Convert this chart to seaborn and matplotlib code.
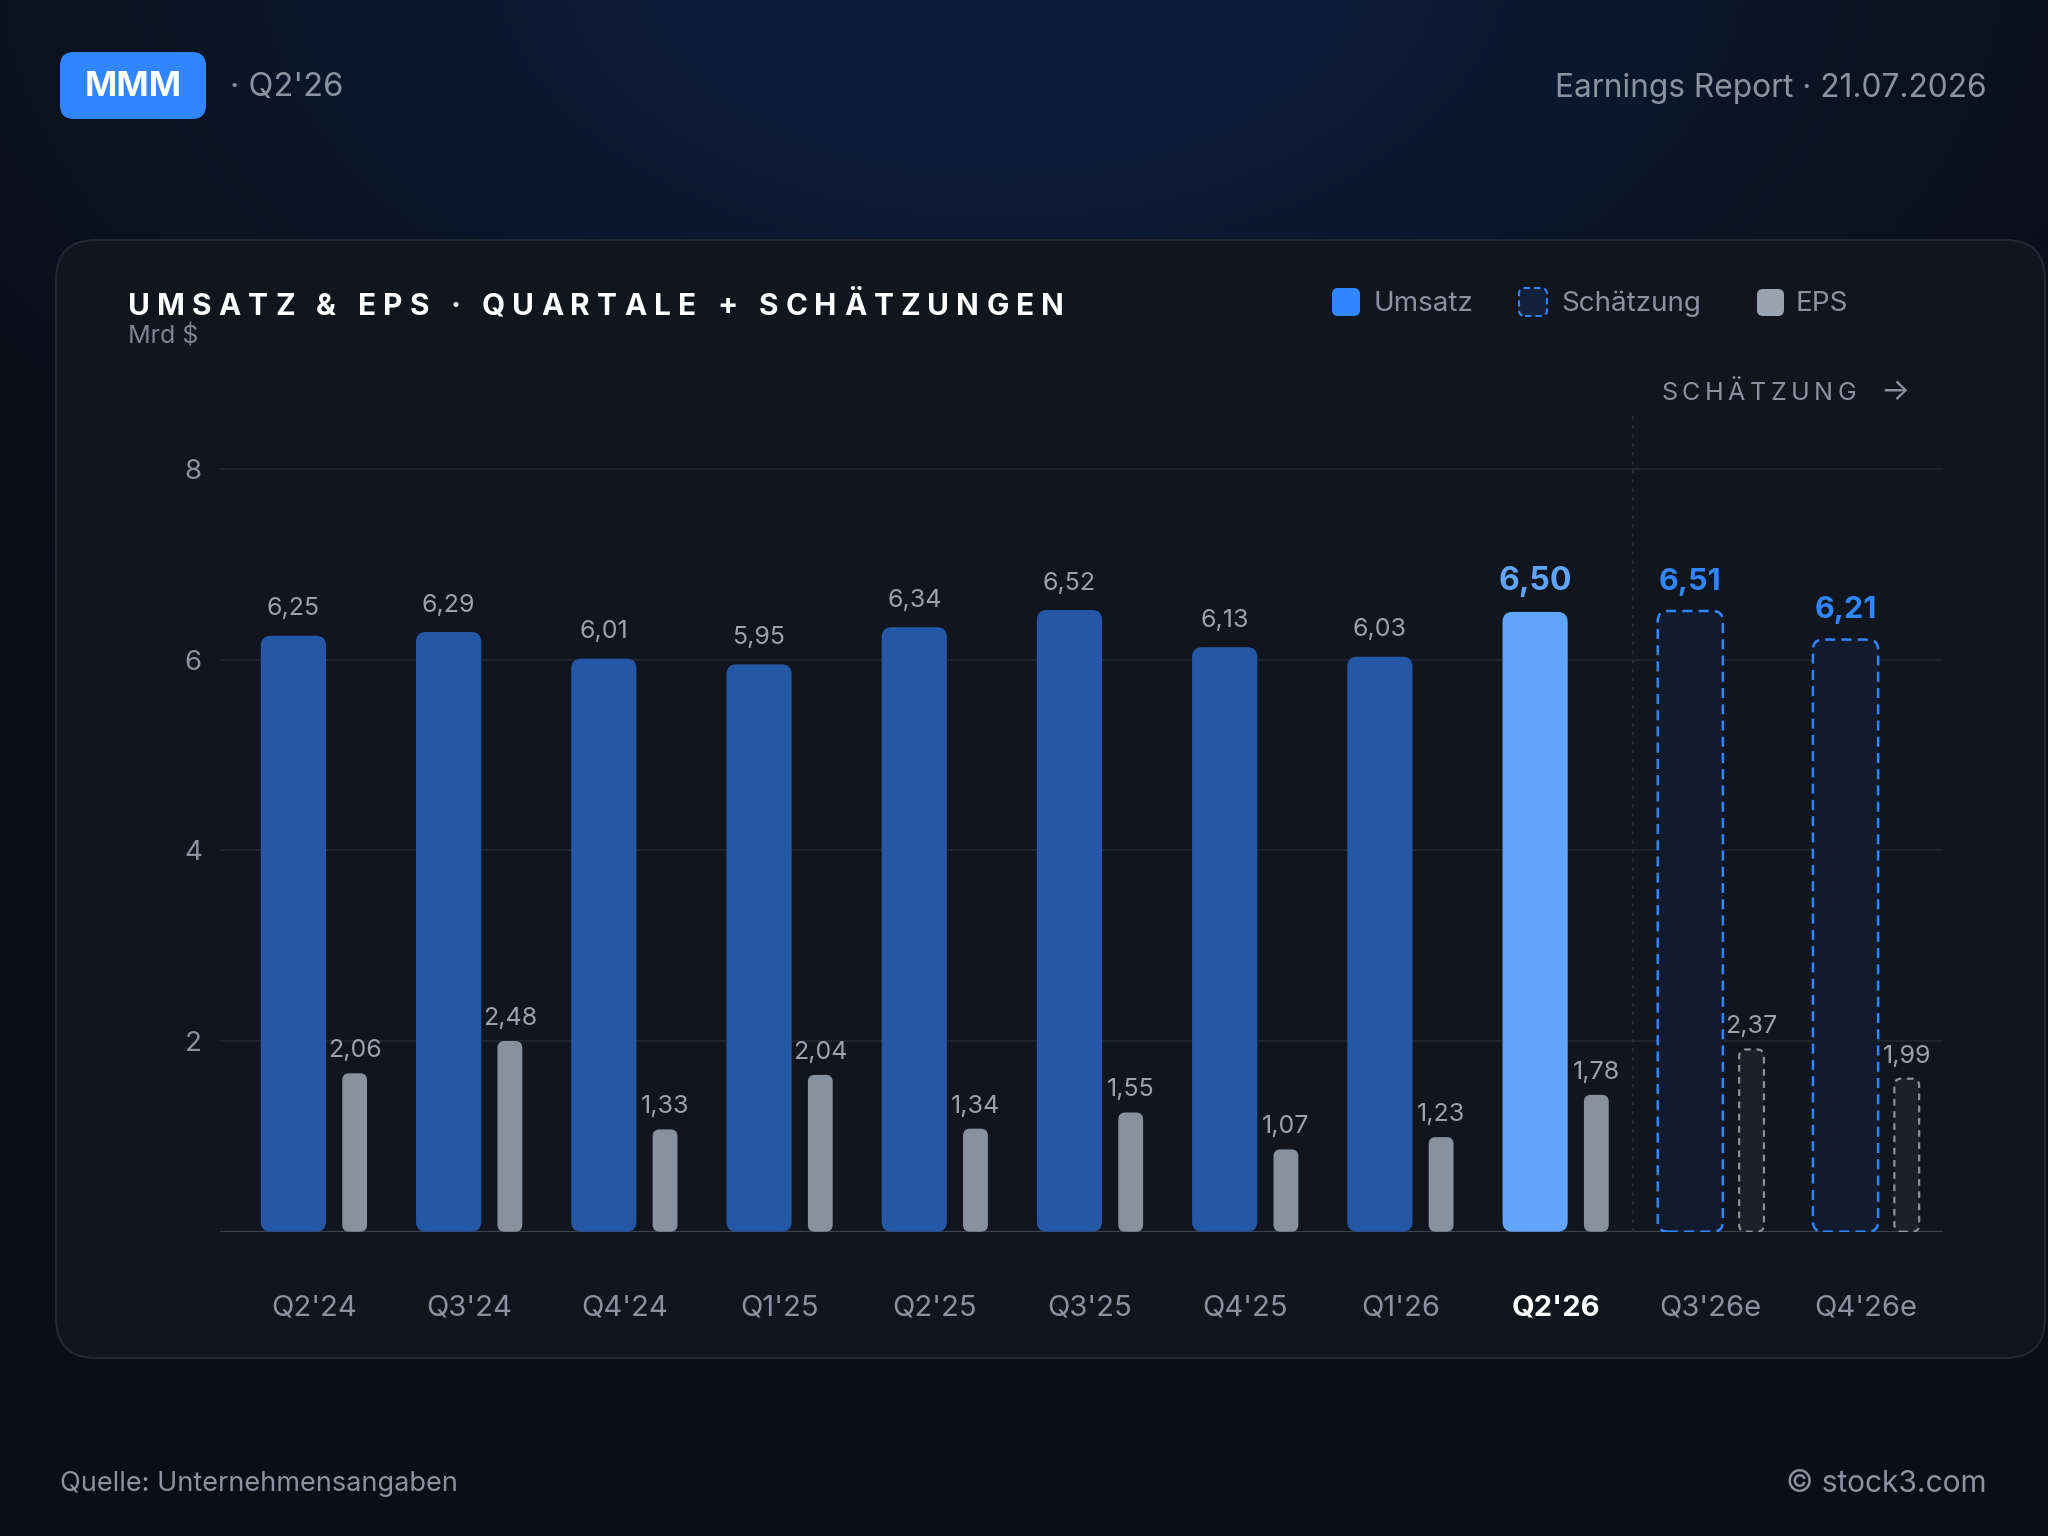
import matplotlib
matplotlib.use("Agg")
import matplotlib.pyplot as plt
import numpy as np
import seaborn as sns
from matplotlib.patches import FancyBboxPatch

# Data (MMM, quarterly revenue in bn $ and EPS)
quarters = ["Q2'24", "Q3'24", "Q4'24", "Q1'25", "Q2'25", "Q3'25", "Q4'25",
            "Q1'26", "Q2'26", "Q3'26e", "Q4'26e"]
umsatz = [6.25, 6.29, 6.01, 5.95, 6.34, 6.52, 6.13, 6.03, 6.50, 6.51, 6.21]
eps = [2.06, 2.48, 1.33, 2.04, 1.34, 1.55, 1.07, 1.23, 1.78, 2.37, 1.99]
status = ["ist", "ist", "ist", "ist", "ist", "ist", "ist", "ist",
          "aktuell", "schaetzung", "schaetzung"]
y_ticks = [2, 4, 6, 8]

TITLE = "UMSATZ & EPS · QUARTALE + SCHÄTZUNGEN"

sns.set_theme(style="white")
plt.rcParams["font.family"] = ["Inter", "DejaVu Sans"]

W, H = 2048, 1536
GRAY = "#8b93a1"
BLUE = "#2f86ff"

fig = plt.figure(figsize=(W / 100, H / 100), dpi=100)
fig.patch.set_facecolor("#0a0e16")

# background layer in pixel coordinates
bg = fig.add_axes([0, 0, 1, 1])
yy, xx = np.mgrid[0:H:4, 0:W:4]
glow = np.exp(-(((xx - 1000) / 820.0) ** 2 + ((yy + 40) / 480.0) ** 2))
base_c = np.array([10, 14, 22]) / 255
glow_c = np.array([13, 30, 62]) / 255
bg.imshow(base_c + (glow_c - base_c) * glow[..., None], extent=(0, W, 0, H),
          origin="upper", aspect="auto", interpolation="bilinear", zorder=0)
bg.set_xlim(0, W)
bg.set_ylim(0, H)
bg.axis("off")

def Y(y_top):
    return H - y_top

# card
bg.add_patch(FancyBboxPatch((56, Y(1358)), 2045 - 56, 1358 - 240,
                            boxstyle="round,pad=0,rounding_size=40",
                            fc="#10151e", ec="#222935", lw=1.5, zorder=1))

# header
bg.add_patch(FancyBboxPatch((60, Y(119)), 146, 67,
                            boxstyle="round,pad=0,rounding_size=14",
                            fc=BLUE, ec="none", zorder=2))
bg.text(133, Y(87), "MMM", color="white", fontsize=25, fontweight="bold",
        ha="center", va="center", zorder=3)
bg.text(230, Y(88), "· Q2'26", color=GRAY, fontsize=23.5, ha="left", va="center")
bg.text(1987, Y(88), "Earnings Report · 21.07.2026", color=GRAY, fontsize=22.8,
        ha="right", va="center")

renderer = fig.canvas.get_renderer()

def text_width(s, **kw):
    t = bg.text(0, 0, s, **kw)
    w = t.get_window_extent(renderer).width
    t.remove()
    return w

def spaced_text(x, y, s, target_w, **kw):
    widths = []
    for ch in s:
        if ch == " ":
            widths.append(text_width("I I", **kw) - text_width("II", **kw))
        else:
            widths.append(text_width(ch, **kw))
    gap = (target_w - sum(widths)) / (len(s) - 1)
    cur = x
    for ch, w in zip(s, widths):
        if ch != " ":
            bg.text(cur, y, ch, ha="left", va="baseline", zorder=3, **kw)
        cur += w + gap

spaced_text(128, Y(315), TITLE, 936, fontsize=21.5, fontweight="bold", color="white")
bg.text(128, Y(336), "Mrd $", color="#7d8593", fontsize=18, ha="left", va="center", zorder=3)

# legend
bg.add_patch(FancyBboxPatch((1332, Y(316)), 28, 28, boxstyle="round,pad=0,rounding_size=6",
                            fc=BLUE, ec="none", zorder=3))
bg.add_patch(FancyBboxPatch((1519, Y(316)), 28, 28, boxstyle="round,pad=0,rounding_size=6",
                            fc="#13203a", ec=BLUE, lw=1.5, ls=(0, (3, 2)), zorder=3))
bg.add_patch(FancyBboxPatch((1757, Y(316)), 27, 27, boxstyle="round,pad=0,rounding_size=6",
                            fc="#9aa3b0", ec="none", zorder=3))
for lx, lab in [(1373, "Umsatz"), (1561, "Schätzung"), (1796, "EPS")]:
    bg.text(lx, Y(304), lab, color=GRAY, fontsize=20, ha="left", va="center", zorder=3)

spaced_text(1661, Y(400), "SCHÄTZUNG", 195, fontsize=18, color=GRAY)
bg.text(1909, Y(400), "→", color=GRAY, fontsize=22, ha="right", va="baseline", zorder=3)

# footer
bg.text(60, Y(1484), "Quelle: Unternehmensangaben", color=GRAY, fontsize=19.5,
        ha="left", va="center")
bg.text(1987, Y(1484), "© stock3.com", color=GRAY, fontsize=21.5, ha="right", va="center")

# main chart
ax = fig.add_axes([220 / W, 304.3 / H, 1723 / W, 820 / H])
ax.patch.set_alpha(0)
idx = np.arange(len(quarters))

sns.barplot(x=idx - 0.132, y=umsatz, native_scale=True, width=0.42, orient="x",
            color="#2458a6", saturation=1, errorbar=None, ax=ax)
ax2 = ax.twinx()
sns.barplot(x=idx + 0.2625, y=eps, native_scale=True, width=0.16, orient="x",
            color="#88929e", saturation=1, errorbar=None, ax=ax2)

ax.set_xlim(-0.605, 10.496)
ax2.set_xlim(-0.605, 10.496)
ax.set_ylim(0, 8.6)
ax2.set_ylim(0, 8.6 * max(eps) / 2.0)

umsatz_style = {
    "ist": dict(fc="#2458a6", ec="none"),
    "aktuell": dict(fc="#60a5fa", ec="none"),
    "schaetzung": dict(fc="#111b2d", ec=BLUE, lw=1.8, ls=(0, (4, 2.5))),
}
eps_style = {
    "ist": dict(fc="#88929e", ec="none"),
    "aktuell": dict(fc="#88929e", ec="none"),
    "schaetzung": dict(fc="#1c2029", ec="#8a929e", lw=1.6, ls=(0, (3, 2.5))),
}

def round_bars(axis, r_px, styles):
    p0 = axis.transData.transform((0, 0))
    p1 = axis.transData.transform((1, 1))
    xupp = 1.0 / (p1[0] - p0[0])
    yupp = 1.0 / (p1[1] - p0[1])
    for p, st in zip(list(axis.patches), status):
        x, y, w, h = p.get_x(), p.get_y(), p.get_width(), p.get_height()
        p.remove()
        axis.add_patch(FancyBboxPatch(
            (x, y), w, h, boxstyle=f"round,pad=0,rounding_size={r_px * xupp}",
            mutation_aspect=yupp / xupp, zorder=3, **styles[st]))

round_bars(ax, 10, umsatz_style)
round_bars(ax2, 7, eps_style)

def fmt(v):
    return f"{v:.2f}".replace(".", ",")

for i, (u, e, st) in enumerate(zip(umsatz, eps, status)):
    if st == "aktuell":
        kw = dict(fontsize=23, fontweight="bold", color="#60a5fa")
    elif st == "schaetzung":
        kw = dict(fontsize=22, fontweight="bold", color=BLUE)
    else:
        kw = dict(fontsize=18, color="#9ca3af")
    ax.annotate(fmt(u), (i - 0.132, u), xytext=(0, 11), textcoords="offset points",
                ha="center", va="bottom", **kw)
    ax2.annotate(fmt(e), (i + 0.2625, e), xytext=(0, 8), textcoords="offset points",
                 ha="center", va="bottom", fontsize=18, color="#9ca3af")

ax.set_yticks(y_ticks)
ax.set_yticklabels([str(t) for t in y_ticks])
ax.set_xticks(idx)
ax.set_xticklabels(quarters)
ax.set_xlabel("")
ax.set_ylabel("")
ax2.set_ylabel("")
ax2.set_yticks([])
ax.grid(axis="y", color="#222834", lw=1.2)
ax.grid(axis="x", visible=False)
ax.set_axisbelow(True)
ax.axhline(0, color="#3b414d", lw=1.6, zorder=1)
ax.axvline(8.5, color="#2a303a", lw=1.3, ls=(0, (2, 3)), zorder=1)
for a in (ax, ax2):
    for s in a.spines.values():
        s.set_visible(False)
ax.tick_params(axis="y", length=0, pad=13, labelsize=20, labelcolor="#8a929f")
ax.tick_params(axis="x", length=0, pad=45, labelsize=21, labelcolor="#8a929f")
hl = ax.get_xticklabels()[status.index("aktuell")]
hl.set_fontweight("bold")
hl.set_color("white")

fig.savefig("out.png", dpi=100, facecolor=fig.get_facecolor())
